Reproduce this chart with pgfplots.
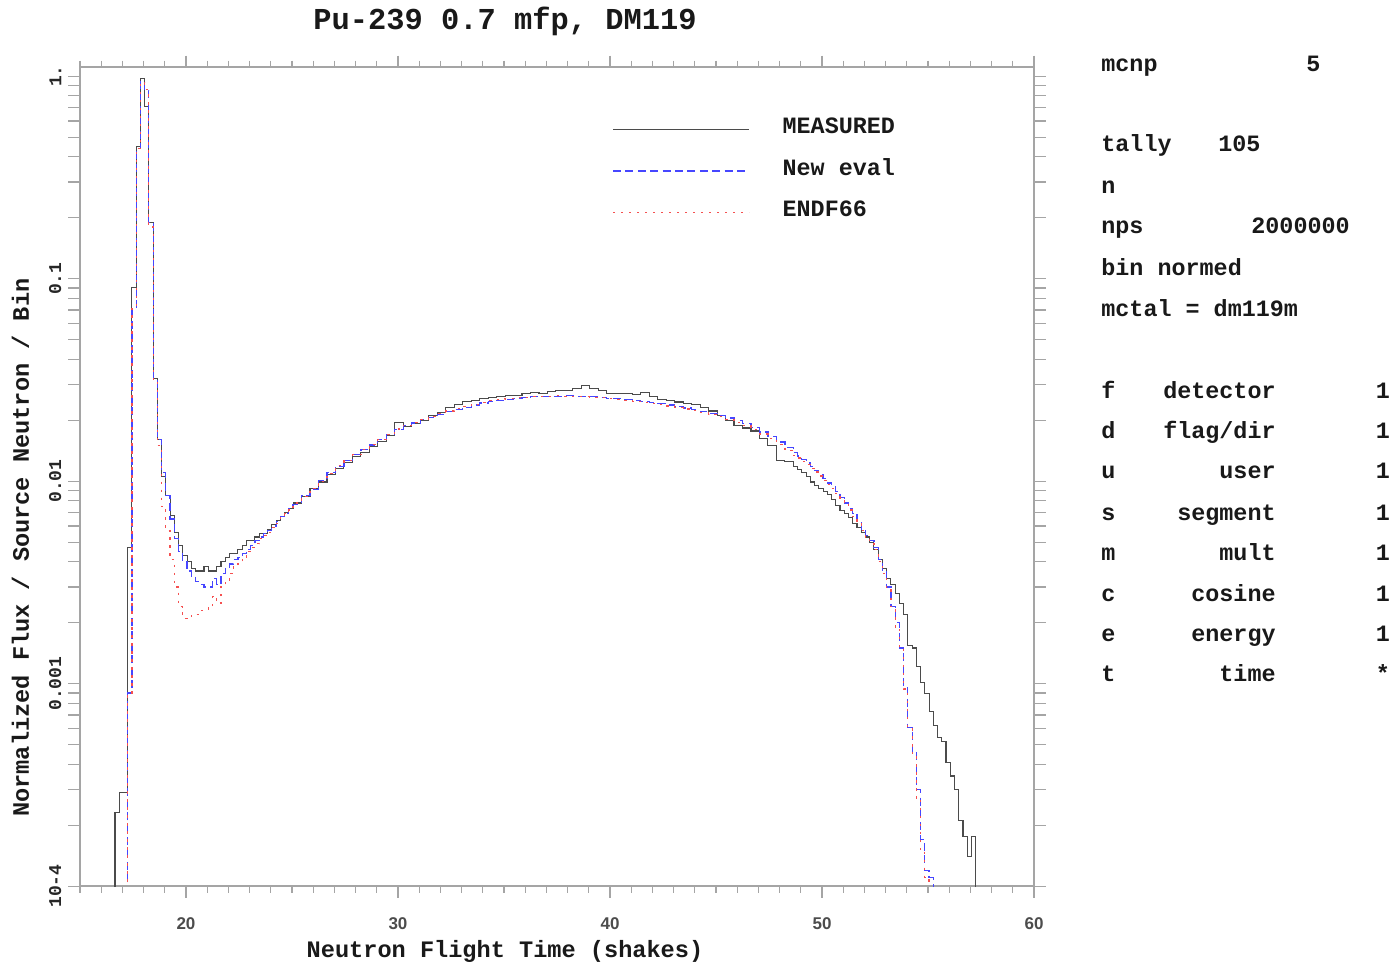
\documentclass[border=0pt]{standalone}
\usepackage{pgfplots}
\pgfplotsset{compat=1.18}
\usepackage{pgfplotstable}
\usepackage{fontspec}
\setmainfont{Liberation Mono}
\newfontfamily\sansf{Liberation Sans}
\definecolor{mblue}{RGB}{70,70,255}
\definecolor{mred}{RGB}{245,80,80}
\definecolor{mblack}{RGB}{75,75,75}
\definecolor{axgray}{RGB}{165,165,165}

\pgfplotstableread{
x M N E
16.45 1e-5 1e-5 1e-5
16.65 2.3e-4 1e-5 1e-5
16.85 2.9e-4 1e-5 1e-5
17.05 2.9e-4 1e-5 1e-5
17.25 4.7e-3 9e-4 9e-4
17.45 0.090 0.071 0.071
17.65 0.45 0.44 0.44
17.85 0.97 0.94 0.93
18.05 0.71 0.85 0.86
18.25 0.19 0.19 0.18
18.45 0.032 0.032 0.031
18.65 0.016 0.016 0.015
18.85 0.0105 0.0110 0.0075
19.05 0.0085 0.0085 0.0057
19.25 0.0068 0.0065 0.0041
19.45 0.0056 0.0052 0.0030
19.65 0.0048 0.0045 0.0024
19.85 0.0043 0.0040 0.0021
20.05 0.0040 0.0036 0.0021
20.25 0.0037 0.0034 0.0022
20.45 0.0036 0.0032 0.0022
20.65 0.0036 0.0031 0.0023
20.85 0.0038 0.0030 0.0023
21.05 0.0036 0.0030 0.0024
21.25 0.0036 0.0033 0.0027
21.45 0.0038 0.0031 0.0025
21.65 0.0040 0.0035 0.0030
21.85 0.0042 0.0037 0.0032
22.05 0.0044 0.0039 0.0035
22.25 0.0044 0.0041 0.0038
22.45 0.0046 0.0042 0.0040
22.65 0.0048 0.0044 0.0042
22.85 0.0051 0.0046 0.0045
23.05 0.0051 0.0048 0.0047
23.25 0.0053 0.0051 0.0049
23.45 0.0055 0.0053 0.0052
23.65 0.0055 0.0055 0.0054
23.85 0.0058 0.0057 0.0056
24.05 0.0061 0.0060 0.0059
24.25 0.0064 0.0063 0.0062
24.45 0.0067 0.0067 0.0066
24.65 0.0070 0.0069 0.0069
24.85 0.0073 0.0073 0.0072
25.05 0.0078 0.0077 0.0078
25.45 0.0084 0.0085 0.0084
25.85 0.0092 0.0091 0.0092
26.25 0.0099 0.0101 0.0100
26.65 0.0108 0.0110 0.0109
27.05 0.0116 0.0118 0.0119
27.45 0.0124 0.0127 0.0126
27.85 0.0132 0.0135 0.0135
28.25 0.0139 0.0143 0.0143
28.65 0.0148 0.0151 0.0152
29.05 0.0157 0.0160 0.0161
29.45 0.0168 0.0170 0.0170
29.85 0.0194 0.0180 0.0181
30.25 0.0186 0.0188 0.0189
30.65 0.0192 0.0194 0.0195
31.05 0.0200 0.0201 0.0202
31.45 0.0210 0.0207 0.0209
31.85 0.0218 0.0214 0.0216
32.25 0.0232 0.0220 0.0222
32.65 0.0238 0.0226 0.0228
33.05 0.0247 0.0232 0.0234
33.45 0.0250 0.0238 0.0240
33.85 0.0255 0.0243 0.0245
34.25 0.0258 0.0248 0.0250
34.65 0.0261 0.0251 0.0252
35.05 0.0264 0.0254 0.0255
35.45 0.0266 0.0257 0.0258
35.85 0.0272 0.0259 0.0260
36.25 0.0275 0.0261 0.0262
36.65 0.0272 0.0262 0.0263
37.05 0.0276 0.0263 0.0263
37.45 0.0279 0.0263 0.0264
37.85 0.0281 0.0264 0.0263
38.25 0.0288 0.0263 0.0262
38.65 0.0297 0.0262 0.0261
39.05 0.0287 0.0261 0.0260
39.45 0.0279 0.0259 0.0258
39.85 0.0272 0.0257 0.0256
40.25 0.0270 0.0255 0.0254
40.65 0.0271 0.0253 0.0251
41.05 0.0268 0.0251 0.0248
41.45 0.0273 0.0248 0.0245
41.85 0.0262 0.0245 0.0242
42.25 0.0254 0.0242 0.0239
42.65 0.0250 0.0238 0.0235
43.05 0.0246 0.0234 0.0231
43.45 0.0243 0.0230 0.0227
43.85 0.0238 0.0225 0.0223
44.25 0.0232 0.0221 0.0218
44.65 0.0222 0.0216 0.0214
45.05 0.0211 0.0211 0.0208
45.45 0.0199 0.0205 0.0202
45.85 0.0188 0.0199 0.0195
46.25 0.0183 0.0192 0.0188
46.65 0.0177 0.0184 0.0180
47.05 0.0162 0.0175 0.0171
47.45 0.0150 0.0166 0.0162
47.85 0.0127 0.0156 0.0152
48.25 0.0125 0.0146 0.0142
48.65 0.0118 0.0138 0.0134
48.85 0.0114 0.0133 0.0130
49.05 0.0110 0.0128 0.0125
49.25 0.0105 0.0123 0.0121
49.45 0.0099 0.0118 0.0116
49.65 0.0095 0.0113 0.0111
49.85 0.0092 0.0108 0.0106
50.05 0.0089 0.0103 0.0101
50.25 0.0086 0.0098 0.0096
50.45 0.0081 0.0094 0.0092
50.65 0.0076 0.0089 0.0087
50.85 0.0072 0.0083 0.0082
51.05 0.0069 0.0078 0.0077
51.25 0.0066 0.0073 0.0072
51.45 0.0062 0.0069 0.0067
51.65 0.0059 0.0063 0.0062
51.85 0.0056 0.0058 0.0057
52.05 0.0053 0.0054 0.0053
52.25 0.0050 0.0051 0.0050
52.45 0.0046 0.0047 0.0046
52.65 0.0041 0.0041 0.0040
52.85 0.0037 0.0036 0.0035
53.05 0.0033 0.0030 0.0029
53.25 0.0031 0.0024 0.0024
53.45 0.0028 0.0020 0.0019
53.65 0.0025 0.0015 0.0015
53.85 0.0022 0.00096 0.00094
54.05 0.00155 0.00061 0.00060
54.25 0.00150 0.00046 0.00045
54.45 0.00121 0.00030 0.00027
54.65 0.00101 0.00017 0.00015
54.85 0.00089 0.00012 0.00011
55.05 0.00073 0.00011 1e-5
55.25 0.00062 1e-5 1e-5
55.45 0.00054 1e-5 1e-5
55.65 0.00052 1e-5 1e-5
55.85 0.00041 1e-5 1e-5
56.05 0.00035 1e-5 1e-5
56.25 0.00030 1e-5 1e-5
56.45 0.00021 1e-5 1e-5
56.65 0.000175 1e-5 1e-5
56.85 0.00014 1e-5 1e-5
57.05 0.000175 1e-5 1e-5
57.25 1e-5 1e-5 1e-5
57.45 1e-5 1e-5 1e-5
}\data

\begin{document}
\begin{tikzpicture}
\begin{scope}[x=0.5pt,y=-0.5pt,shift={(-40pt,443pt)}]
\useasboundingbox (0,0) rectangle (1397,964);
\end{scope}
\begin{axis}[
  at={(0,0)}, anchor=south west,
  scale only axis, width=477pt, height=409.5pt,
  xmin=15, xmax=60, ymode=log, ymin=1e-4, ymax=1.108,
  /pgf/number format/assume math mode=true,
  xtick={20,30,40,50,60}, minor xtick={15,16,...,60},
  xticklabels={20,30,40,50,60},
  ytick={1e-4,1e-3,1e-2,1e-1,1},
  yticklabels={10-4,0.001,0.01,0.1,1.},
  extra y ticks={2e-4,3e-4,4e-4,5e-4,6e-4,7e-4,8e-4,9e-4,2e-3,3e-3,4e-3,5e-3,6e-3,7e-3,8e-3,9e-3,0.02,0.03,0.04,0.05,0.06,0.07,0.08,0.09,0.2,0.3,0.4,0.5,0.6,0.7,0.8,0.9},
  extra y tick labels={},
  yminorticks=false,
  tick align=outside,
  major tick length=5.8pt, minor tick length=3.3pt,
  axis line style={axgray, line width=0.7pt},
  every tick/.style={axgray, line width=0.6pt},
  xticklabel style={font=\sansf\bfseries\fontsize{8.5}{10}\selectfont, text=black!70, yshift=-6.5pt},
  yticklabel style={font=\bfseries\fontsize{9}{10}\selectfont, rotate=90, anchor=south, text=black!85},
  title={Pu-239 0.7 mfp, DM119},
  every axis title/.style={at={(axis description cs:0.4455,1.0464)}, anchor=base, font=\bfseries\fontsize{15.2}{16}\selectfont, text=black!90},
  xlabel={Neutron Flight Time (shakes)},
  every axis x label/.style={at={(axis description cs:0.4455,-0.0873)}, anchor=base, font=\bfseries\fontsize{11.8}{13}\selectfont, text=black!90},
  ylabel={Normalized Flux / Source Neutron / Bin},
  every axis y label/.style={at={(axis description cs:-0.0535,0.4133)}, anchor=base, rotate=90, font=\bfseries\fontsize{11.8}{13}\selectfont, text=black!90},
  legend style={at={(rel axis cs:0.5577,0.939)}, anchor=north west, draw=none, fill=none, inner sep=0pt, row sep=10.75pt, column sep=16.5pt, nodes={inner sep=0pt, text height=8pt, text depth=2pt, anchor=base west, text=black!90}, font=\bfseries\fontsize{11.7}{13}\selectfont},
  legend cell align=left,
  legend image code/.code={\draw[#1] (0pt,2pt) -- (68pt,2pt);},
]
\addplot[const plot mark left, mblack, line width=0.55pt] table[x=x,y=M] {\data};
\addlegendentry{MEASURED}
\addplot[const plot mark left, mblue, line width=0.6pt, dash pattern=on 4pt off 2.2pt] table[x=x,y=N] {\data};
\addlegendentry{New eval}
\addplot[const plot mark left, mred, line width=0.6pt, dash pattern=on 1.2pt off 2.8pt] table[x=x,y=E] {\data};
\addlegendentry{ENDF66}
\end{axis}
\begin{scope}[x=0.5pt,y=-0.5pt,shift={(-40pt,443pt)}, every node/.style={inner sep=0pt, text=black!90, font=\bfseries\fontsize{11.7}{13}\selectfont}]
\node[anchor=base west] at (1101,71.7) {mcnp};
\node[anchor=base west] at (1306,71.7) {5};
\node[anchor=base west] at (1101,151.7) {tally};
\node[anchor=base west] at (1218,151.7) {105};
\node[anchor=base west] at (1101,193.3) {n};
\node[anchor=base west] at (1101,233.3) {nps};
\node[anchor=base west] at (1251,233.3) {2000000};
\node[anchor=base west] at (1101,275) {bin normed};
\node[anchor=base west] at (1101,316.7) {mctal = dm119m};
\node[anchor=base west] at (1101,398.3) {f};
\node[anchor=base east] at (1276,398.3) {detector};
\node[anchor=base] at (1383,398.3) {1};
\node[anchor=base west] at (1101,438.3) {d};
\node[anchor=base east] at (1276,438.3) {flag/dir};
\node[anchor=base] at (1383,438.3) {1};
\node[anchor=base west] at (1101,478.3) {u};
\node[anchor=base east] at (1276,478.3) {user};
\node[anchor=base] at (1383,478.3) {1};
\node[anchor=base west] at (1101,520) {s};
\node[anchor=base east] at (1276,520) {segment};
\node[anchor=base] at (1383,520) {1};
\node[anchor=base west] at (1101,560) {m};
\node[anchor=base east] at (1276,560) {mult};
\node[anchor=base] at (1383,560) {1};
\node[anchor=base west] at (1101,601.7) {c};
\node[anchor=base east] at (1276,601.7) {cosine};
\node[anchor=base] at (1383,601.7) {1};
\node[anchor=base west] at (1101,641.7) {e};
\node[anchor=base east] at (1276,641.7) {energy};
\node[anchor=base] at (1383,641.7) {1};
\node[anchor=base west] at (1101,681.7) {t};
\node[anchor=base east] at (1276,681.7) {time};
\node[anchor=base] at (1383,681.7) {*};
\end{scope}
\end{tikzpicture}
\end{document}
